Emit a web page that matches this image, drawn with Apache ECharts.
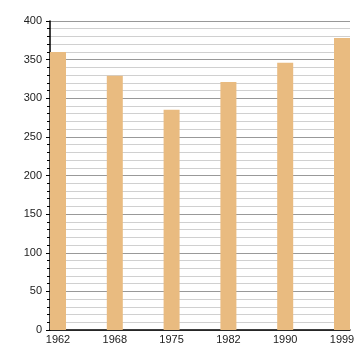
<!DOCTYPE html>
<html><head><meta charset="utf-8">
<script src="https://cdn.jsdelivr.net/npm/echarts@6/dist/echarts.min.js"></script>
<style>html,body{margin:0;padding:0;background:#fff}#c{width:360px;height:360px}</style>
</head><body><div id="c"></div>
<script>
const years = ['1962','1968','1975','1982','1990','1999'];
const values = [360, 329, 285, 321, 346, 378];
const yTicks = [0, 50, 100, 150, 200, 250, 300, 350, 400];

const chart = echarts.init(document.getElementById('c'), null, {renderer:'canvas'});
const font = '"Liberation Sans", Arial, sans-serif';
chart.setOption({
  animation:false,
  grid:{left:50, right:10, top:21, bottom:30, containLabel:false},
  xAxis:{
    type:'value', min:-0.1408, max:5.1408,
    axisLine:{show:true, onZero:false, lineStyle:{color:'#000', width:1.5}},
    axisTick:{show:false},
    splitLine:{show:false},
    axisLabel:{customValues:[0,1,2,3,4,5], formatter:v=>years[Math.round(v)]||'', color:'#222', fontFamily:font, fontSize:11, margin:4}
  },
  yAxis:{
    type:'value', min:yTicks[0], max:yTicks[yTicks.length-1], interval:50,
    axisLine:{show:true, onZero:false, lineStyle:{color:'#000', width:1.5}},
    axisTick:{show:true, length:4, inside:false, lineStyle:{color:'#000'}},
    minorTick:{show:true, splitNumber:5, length:3, lineStyle:{color:'#000'}},
    splitLine:{show:true, lineStyle:{color:'#999', width:1}},
    minorSplitLine:{show:true, lineStyle:{color:'#d0d0d0', width:1}},
    axisLabel:{color:'#222', fontFamily:font, fontSize:11, margin:8}
  },
  series:[{
    type:'bar', barWidth:16,
    data: values.map((v,i)=>[i,v]),
    itemStyle:{color:'#e9bb80'}
  }]
});
</script></body></html>
